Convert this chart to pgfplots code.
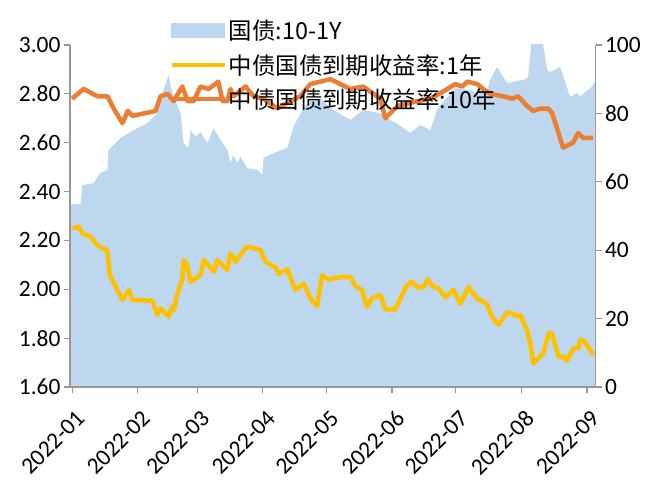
\documentclass[border=0pt]{standalone}
\usepackage{fontspec}
\setmainfont{Carlito}
\newfontfamily\cjk{Noto Sans CJK SC}
\usepackage{pgfplots}
\usepackage{pgfplotstable}
\pgfplotsset{compat=1.18}
\definecolor{areablue}{RGB}{189,215,238}
\definecolor{yel}{RGB}{255,192,0}
\definecolor{ora}{RGB}{237,125,49}
\definecolor{axgray}{RGB}{150,150,150}

% day number from 2022-01-01
\pgfplotstableread{
d s
-0.7 53
0 53.5
4 53.5
4.8 59
10.1 59.6
12 61.4
13.4 62.6
16.7 63.5
17.2 69.3
19.6 70.8
22.9 72.8
29 75.1
35.6 77.2
40.3 80.1
43.1 86.8
45.5 91.2
47.4 85.4
51.2 80.1
52.6 71.3
54.9 69.9
55.9 75.1
58.2 73.1
60.6 74.6
63.9 71.3
66.7 75.7
70 72.2
73.3 69.3
74.7 65.5
76.1 67.8
78 65.5
79.4 67.3
82.7 64.0
87.5 63.5
89.8 62.0
90.3 67.0
95 68.4
101.6 69.9
104.4 76.0
108.7 81.0
112.4 83.9
117.2 84.5
121.9 81.5
131.3 78.1
137.4 81
145.5 80
150.2 78
153.5 77
159.6 74.3
164.3 76.6
169 75.1
172.3 81
177 84.8
181.7 87.4
187.9 86.8
191.2 86
195.9 86.8
197.3 89.8
200.6 93.6
202 92.1
205.3 88.9
208.2 89.2
212.9 89.8
215.2 90.6
217.1 103
221.8 102
224.2 92.7
225.6 92.1
230.3 93.6
235 84.8
238.3 86
239.7 85
244.5 87.4
246.8 89.2
}\spread

\pgfplotstableread{
d y
0.1 2.25
3.2 2.256
4.8 2.229
8.7 2.215
11.9 2.18
16.6 2.16
17.8 2.058
23.7 1.956
26.8 1.997
28.4 1.956
37.8 1.953
40.2 1.895
41.7 1.922
45.6 1.888
47.2 1.929
48 1.915
49.6 1.98
52 2.04
52.7 2.12
54.3 2.10
55.9 2.03
60.6 2.058
62.1 2.12
66.9 2.072
68.5 2.12
73.2 2.079
74.7 2.147
77.1 2.113
81.8 2.168
83.4 2.174
88.9 2.16
91.2 2.113
95.9 2.09
97.5 2.063
101.5 2.082
105.4 1.997
109.3 2.024
112.4 1.963
115.6 1.93
118 2.058
121.1 2.04
126.6 2.05
131.3 2.05
132.1 2.04
133.7 2.013
136.8 1.997
139.2 1.929
141.5 1.963
145.5 1.976
147.8 1.918
152.5 1.918
158 2.017
160.4 2.031
162.8 2.008
165.9 2.008
167.7 2.04
170.6 2.01
172.9 2.004
176.1 1.967
180 1.997
183.2 1.94
187.1 2.01
191 1.963
195.8 1.94
198.1 1.888
201.2 1.854
205.2 1.905
208.3 1.90
209.9 1.888
211.5 1.895
214.6 1.833
216.2 1.779
217.7 1.697
222.4 1.738
224.8 1.82
226.4 1.82
229.5 1.724
231.9 1.724
233.5 1.708
236.6 1.758
238.9 1.758
239.7 1.792
241.3 1.792
246 1.731
}\oneyear

\pgfplotstableread{
d y
0 2.78
5.4 2.82
12 2.79
16.7 2.79
19.6 2.74
23.8 2.68
26.2 2.73
28.5 2.71
39.4 2.73
41.7 2.79
45 2.80
47.9 2.77
52 2.83
54.5 2.77
57.3 2.77
60.6 2.83
64.4 2.82
69 2.85
71 2.77
73.3 2.77
74.7 2.82
76.1 2.79
81.8 2.83
85.6 2.79
90.3 2.78
96.9 2.74
103 2.77
107.7 2.79
112.4 2.84
117.2 2.85
121.9 2.86
131.3 2.82
137.4 2.83
145.5 2.78
147.8 2.70
153.5 2.75
162.9 2.77
169 2.78
175.2 2.81
180.8 2.84
184.1 2.83
186.5 2.85
191.2 2.84
194 2.82
197.3 2.80
203.4 2.79
207.7 2.78
210.5 2.79
214.7 2.75
217.6 2.73
220.9 2.74
224.7 2.74
226.6 2.72
231.7 2.58
236.4 2.60
238.8 2.64
241.2 2.62
245.9 2.62
}\tenyear

\begin{document}
\begin{tikzpicture}
\useasboundingbox (0,0) rectangle (659bp,484bp);
\pgfplotsset{
  base/.style={
    at={(70bp,97bp)}, anchor=south west,
    scale only axis, width=525.5bp, height=342bp,
    xmin=-1, xmax=247,
    font=\fontsize{23.5}{28}\selectfont,
    /pgf/number format/assume math mode=true,
    axis line style={axgray, line width=1.2bp},
    major tick style={axgray, line width=1.2bp},
    tick align=outside, major tick length=6bp,
  },
  lineleg/.style={legend image code/.code={\draw[##1] (0bp,0bp) -- (53bp,0bp);}},
}
\begin{axis}[base, axis y line*=right, axis x line=none,
  ymin=0, ymax=100, ytick={0,20,40,60,80,100}]
\addplot[fill=areablue, draw=none] table[x=d, y=s] {\spread} \closedcycle;
\end{axis}
\begin{axis}[base, axis y line*=left, axis x line*=bottom,
  ymin=1.6, ymax=3.0, ytick={1.6,1.8,2.0,2.2,2.4,2.6,2.8,3.0},
  yticklabel style={/pgf/number format/.cd, fixed, fixed zerofill, precision=2},
  xtick={0,31,59,90,120,151,181,212,243},
  xticklabels={2022-01,2022-02,2022-03,2022-04,2022-05,2022-06,2022-07,2022-08,2022-09},
  xticklabel style={rotate=45, anchor=north east, xshift=-6bp, yshift=-10bp},
  legend style={at={(axis description cs:0.183,1.085)}, anchor=north west,
    draw=none, fill=none, row sep=9bp,
    font=\cjk\fontsize{23.5}{28}\selectfont},
  legend cell align=left]
\addlegendimage{legend image code/.code={\fill[areablue] (0bp,-7bp) rectangle (53bp,7bp);}}
\addlegendentry{国债:10-1Y}
\addplot[yel, line width=4.5bp, line join=round, lineleg] table[x=d, y=y] {\oneyear};
\addlegendentry{中债国债到期收益率:1年}
\addplot[ora, line width=4.5bp, line join=round, lineleg] table[x=d, y=y] {\tenyear};
\addlegendentry{中债国债到期收益率:10年}
\end{axis}
\end{tikzpicture}
\end{document}
